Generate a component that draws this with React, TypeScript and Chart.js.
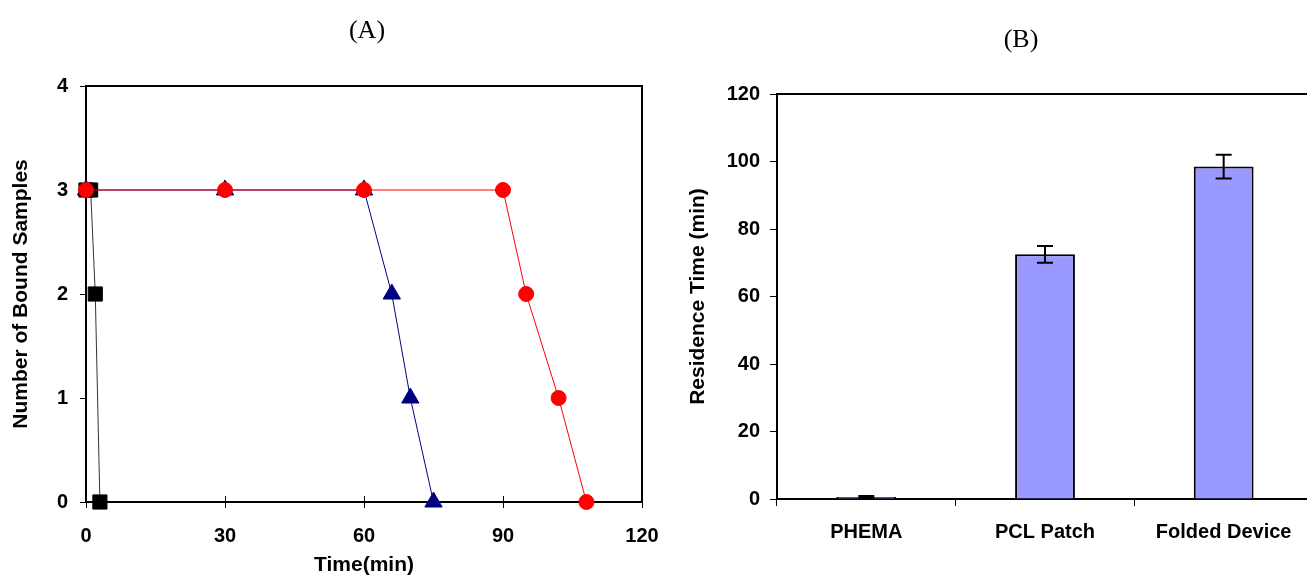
import React, { useEffect, useRef } from 'react';
import { Chart, registerables } from 'chart.js';

Chart.register(...registerables);

// ---- Panel A data ----
const timeTicks = [0, 30, 60, 90, 120];
const redTime = [0, 30, 60, 90, 95, 102, 108];
const redCount = [3, 3, 3, 3, 2, 1, 0];
const blueTime = [0, 30, 60, 66, 70, 75];
const blueCount = [3, 3, 3, 2, 1, 0];
const blackTime = [0, 1, 2, 3];
const blackCount = [3, 3, 2, 0];

// ---- Panel B data ----
const barLabels = ['PHEMA', 'PCL Patch', 'Folded Device'];
const barValues = [0.6, 72.5, 98.5];
const barErrors = [0.3, 2.5, 3.5];

const SANS = "'Liberation Sans', Arial, sans-serif";
const SERIF = "'Liberation Serif', 'Times New Roman', serif";

const framePlugin = {
  id: 'frame',
  beforeDatasetsDraw(chart: any, _args: any, opts: any) {
    const { ctx, chartArea: a } = chart;
    ctx.save();
    ctx.strokeStyle = '#000';
    ctx.lineWidth = 2;
    ctx.strokeRect(a.left, a.top, a.right - a.left, a.bottom - a.top);
    if (opts && opts.crossTicks) {
      const xs = chart.scales.x;
      ctx.lineWidth = 1;
      xs.ticks.forEach((t: any) => {
        const px = Math.round(xs.getPixelForValue(t.value)) + 0.5;
        ctx.beginPath();
        ctx.moveTo(px, a.bottom - 6);
        ctx.lineTo(px, a.bottom);
        ctx.stroke();
      });
    }
    ctx.restore();
  },
  afterDraw(chart: any, _args: any, opts: any) {
    if (!opts || !opts.text) return;
    const { ctx } = chart;
    ctx.save();
    ctx.fillStyle = '#000';
    ctx.font = `26px ${SERIF}`;
    ctx.textAlign = 'center';
    ctx.textBaseline = 'middle';
    ctx.fillText(opts.text, opts.x, opts.y);
    ctx.restore();
  },
};

const errorBarPlugin = {
  id: 'errorBars',
  afterDatasetsDraw(chart: any) {
    const { ctx } = chart;
    const meta = chart.getDatasetMeta(0);
    const ys = chart.scales.y;
    ctx.save();
    ctx.strokeStyle = '#000';
    ctx.lineWidth = 2;
    meta.data.forEach((bar: any, i: number) => {
      const x = bar.x;
      const yTop = ys.getPixelForValue(barValues[i] + barErrors[i]);
      const yBot = ys.getPixelForValue(barValues[i] - barErrors[i]);
      ctx.beginPath();
      ctx.moveTo(x, yTop);
      ctx.lineTo(x, yBot);
      ctx.moveTo(x - 8, yTop);
      ctx.lineTo(x + 8, yTop);
      ctx.moveTo(x - 8, yBot);
      ctx.lineTo(x + 8, yBot);
      ctx.stroke();
    });
    ctx.restore();
  },
};

function toPoints(xs: number[], ys: number[]) {
  return xs.map((x, i) => ({ x, y: ys[i] }));
}

export default function App() {
  const leftRef = useRef<HTMLCanvasElement>(null);
  const rightRef = useRef<HTMLCanvasElement>(null);

  useEffect(() => {
    const tickFont = { family: SANS, size: 20, weight: 'bold' as const };
    const titleFont = { family: SANS, size: 21, weight: 'bold' as const };

    const left = new Chart(leftRef.current as HTMLCanvasElement, {
      type: 'line',
      data: {
        datasets: [
          {
            label: 'red',
            data: toPoints(redTime, redCount),
            borderColor: '#FF0000',
            backgroundColor: '#FF0000',
            borderWidth: 1,
            pointStyle: 'circle',
            pointRadius: 7.5,
            pointBorderWidth: 1,
            pointBorderColor: '#FF0000',
            pointBackgroundColor: '#FF0000',
            clip: false as any,
          },
          {
            label: 'black',
            data: toPoints(blackTime, blackCount),
            borderColor: '#333333',
            backgroundColor: '#000000',
            borderWidth: 1,
            pointStyle: 'rect',
            pointRadius: 10,
            pointBorderWidth: 1,
            pointBorderColor: '#000000',
            pointBackgroundColor: '#000000',
            clip: false as any,
          },
          {
            label: 'blue',
            data: toPoints(blueTime, blueCount),
            borderColor: '#000080',
            backgroundColor: '#000080',
            borderWidth: 1,
            pointStyle: 'triangle',
            pointRadius: 10,
            pointBorderWidth: 1,
            pointBorderColor: '#000080',
            pointBackgroundColor: '#000080',
            clip: false as any,
          },
        ],
      },
      options: {
        animation: false,
        responsive: false,
        devicePixelRatio: 1,
        layout: { padding: { left: 0, top: 86, right: 38, bottom: 0 } },
        plugins: {
          legend: { display: false },
          tooltip: { enabled: false },
          frame: { crossTicks: true, text: '(A)', x: 367, y: 31 },
        } as any,
        scales: {
          x: {
            type: 'linear',
            min: 0,
            max: 120,
            afterBuildTicks: (s: any) => {
              s.ticks = timeTicks.map((v) => ({ value: v }));
            },
            afterFit: (s: any) => {
              s.height = 76;
            },
            ticks: { font: tickFont, color: '#000', padding: 16 },
            grid: { display: true, drawOnChartArea: false, drawTicks: true, tickLength: 6, color: '#000' },
            border: { display: true, color: '#000', width: 2 },
            title: { display: true, text: 'Time(min)', font: titleFont, color: '#000', padding: { top: 0, bottom: 0 } },
          },
          y: {
            type: 'linear',
            min: 0,
            max: 4,
            ticks: { stepSize: 1, font: tickFont, color: '#000', padding: 12 },
            afterFit: (s: any) => {
              s.width = 86;
            },
            grid: { display: true, drawOnChartArea: false, drawTicks: true, tickLength: 6, color: '#000' },
            border: { display: true, color: '#000', width: 2 },
            title: { display: true, text: 'Number of Bound Samples', font: titleFont, color: '#000', padding: { top: 9, bottom: 0 } },
          },
        },
      },
      plugins: [framePlugin],
    } as any);

    const right = new Chart(rightRef.current as HTMLCanvasElement, {
      type: 'bar',
      data: {
        labels: barLabels,
        datasets: [
          {
            label: 'Residence Time',
            data: barValues,
            backgroundColor: '#9999FF',
            borderColor: '#000000',
            borderWidth: 2,
            barPercentage: 0.335,
            categoryPercentage: 1,
          },
        ],
      },
      options: {
        animation: false,
        responsive: false,
        devicePixelRatio: 1,
        layout: { padding: { left: 0, top: 94, right: 7, bottom: 0 } },
        plugins: {
          legend: { display: false },
          tooltip: { enabled: false },
          frame: { crossTicks: false, text: '(B)', x: 341, y: 40 },
        } as any,
        scales: {
          x: {
            type: 'category',
            afterFit: (s: any) => {
              s.height = 79;
            },
            ticks: { font: tickFont, color: '#000', padding: 14 },
            grid: { display: true, offset: true, drawOnChartArea: false, drawTicks: true, tickLength: 7, color: '#000' },
            border: { display: true, color: '#000', width: 2 },
          },
          y: {
            type: 'linear',
            min: 0,
            max: 120,
            ticks: { stepSize: 20, font: tickFont, color: '#000', padding: 10 },
            afterFit: (s: any) => {
              s.width = 97;
            },
            grid: { display: true, drawOnChartArea: false, drawTicks: true, tickLength: 7, color: '#000' },
            border: { display: true, color: '#000', width: 2 },
            title: { display: true, text: 'Residence Time (min)', font: titleFont, color: '#000', padding: { top: 6, bottom: 0 } },
          },
        },
      },
      plugins: [framePlugin, errorBarPlugin],
    } as any);

    return () => {
      left.destroy();
      right.destroy();
    };
  }, []);

  return (
    <div
      style={{
        position: 'fixed',
        left: 0,
        top: 0,
        width: 1307,
        height: 578,
        overflow: 'hidden',
        background: '#fff',
      }}
    >
      <canvas
        ref={leftRef}
        width={680}
        height={578}
        style={{ position: 'absolute', left: 0, top: 0, width: 680, height: 578 }}
      />
      <canvas
        ref={rightRef}
        width={640}
        height={578}
        style={{ position: 'absolute', left: 680, top: 0, width: 640, height: 578 }}
      />
    </div>
  );
}
